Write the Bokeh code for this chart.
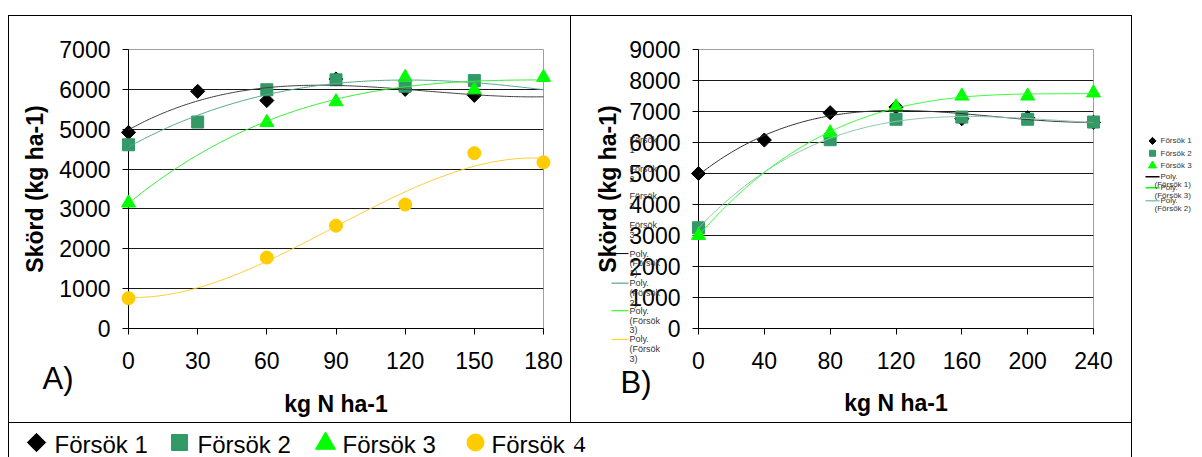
import numpy as np
from bokeh.plotting import figure
from bokeh.models import Range1d, FixedTicker, Spacer
from bokeh.layouts import row, column
from bokeh.core.properties import value
from bokeh.embed import file_html
from bokeh.resources import INLINE

FONT = "Liberation Sans"

# ---------------- data: panel A ----------------
a_xticks = [0, 30, 60, 90, 120, 150, 180]
a_yticks = [0, 1000, 2000, 3000, 4000, 5000, 6000, 7000]
a_f1_x = [0, 30, 60, 90, 120, 150]
a_f1_y = [4920, 5950, 5720, 6260, 6000, 5850]
a_f2_x = [0, 30, 60, 90, 120, 150]
a_f2_y = [4610, 5180, 5990, 6240, 6080, 6220]
a_f3_x = [0, 60, 90, 120, 150, 180]
a_f3_y = [3150, 5170, 5690, 6300, 5990, 6300]
a_f4_x = [0, 60, 90, 120, 150, 180]
a_f4_y = [760, 1780, 2580, 3110, 4400, 4170]

# ---------------- data: panel B ----------------
b_xticks = [0, 40, 80, 120, 160, 200, 240]
b_yticks = [0, 1000, 2000, 3000, 4000, 5000, 6000, 7000, 8000, 9000]
b_f1_x = [0, 40, 80, 120, 160, 200, 240]
b_f1_y = [5000, 6080, 6960, 7140, 6770, 6800, 6650]
b_f2_x = [0, 80, 120, 160, 200, 240]
b_f2_y = [3250, 6090, 6750, 6820, 6750, 6660]
b_f3_x = [0, 80, 120, 160, 200, 240]
b_f3_y = [3000, 6310, 7150, 7500, 7500, 7600]

series_names = ["Försök 1", "Försök 2", "Försök 3", "Försök 4"]
x_title = "kg N ha-1"
y_title = "Skörd (kg ha-1)"

C1, C2, C3, C4 = "#000000", "#339966", "#00FF00", "#FFCC00"


def trend(xs, ys, xmax, order=3):
    coef = np.polyfit(xs, ys, order)
    xx = np.linspace(0, xmax, 181)
    return xx, np.polyval(coef, xx)


def vline(h):
    return Spacer(width=1, height=h, margin=0, styles={"background-color": "#000000"})


def hline(w):
    return Spacer(width=w, height=1, margin=0, styles={"background-color": "#000000"})


def blank(w, h):
    return Spacer(width=w, height=h, margin=0)


def chart(W, H, fl, ft, fw, fh, xmax, ymax, xticks, yticks, y_std, x_std):
    p = figure(width=W, height=H, x_range=Range1d(0, xmax), y_range=Range1d(0, ymax),
               output_backend="svg", toolbar_location=None, tools="",
               min_border_left=fl, min_border_right=W - fl - fw,
               min_border_top=ft, min_border_bottom=H - ft - fh,
               background_fill_color="white", border_fill_color="white",
               outline_line_color="#A0A0A0", outline_line_width=1)
    p.extra_x_ranges = {"cx": Range1d(fl, fl + fw)}
    p.extra_y_ranges = {"cy": Range1d(ft + fh, ft)}
    p.xaxis.ticker = FixedTicker(ticks=xticks)
    p.yaxis.ticker = FixedTicker(ticks=yticks)
    p.ygrid.ticker = FixedTicker(ticks=yticks)
    p.xgrid.visible = False
    p.ygrid.grid_line_color = "#000000"
    p.ygrid.grid_line_alpha = 0.9
    for ax in (p.xaxis[0], p.yaxis[0]):
        ax.axis_line_color = "black"
        ax.major_tick_line_color = "black"
        ax.major_tick_out = 6
        ax.major_tick_in = 0
        ax.minor_tick_line_color = None
        ax.major_label_text_font = FONT
        ax.major_label_text_font_size = "23px"
        ax.major_label_text_color = "black"
        ax.axis_label_text_font = FONT
        ax.axis_label_text_font_size = "23px"
        ax.axis_label_text_font_style = "bold"
        ax.axis_label_text_color = "black"
    p.xaxis.axis_label = x_title
    p.yaxis.axis_label = y_title
    p.xaxis.major_label_standoff = 17
    p.yaxis.major_label_standoff = 12
    p.xaxis.axis_label_standoff = x_std
    p.yaxis.axis_label_standoff = y_std
    return p


def txt(p, xs, ys, texts, size, color="#000000", font=FONT, rng=True):
    kw = dict(x_range_name="cx", y_range_name="cy") if rng else {}
    p.text(x=xs, y=ys, text=texts, text_font=value(font), text_font_size=size,
           text_color=color, text_baseline="middle", text_align="left", level="overlay", **kw)


# ---------------- panel A ----------------
pa = chart(561, 406, 119, 33, 415, 283, 180, 7000, a_xticks, a_yticks, 8, 19)
pa.scatter(a_f1_x, a_f1_y, marker="square", angle=np.pi / 4, size=10, color=C1, level="overlay")
pa.scatter(a_f2_x, a_f2_y, marker="square", size=12, color=C2, level="overlay")
pa.scatter(a_f3_x, a_f3_y, marker="triangle", size=14, color=C3, level="overlay")
pa.scatter(a_f4_x, a_f4_y, marker="circle", size=13, color=C4, level="overlay")
for xs, ys, col in [(a_f1_x, a_f1_y, "#404040"), (a_f2_x, a_f2_y, "#55A887"),
                    (a_f3_x, a_f3_y, "#33EE33"), (a_f4_x, a_f4_y, "#FFCC33")]:
    tx, ty = trend(xs, ys, 180)
    pa.line(tx, ty, line_color=col, line_width=1, level="overlay")
txt(pa, [33], [367], ["A)"], "31px")

# ---------------- panel B ----------------
pb = chart(560, 406, 127, 29, 395, 283, 240, 9000, b_xticks, b_yticks, 5, 18)
pb.scatter(b_f1_x, b_f1_y, marker="square", angle=np.pi / 4, size=10, color=C1, level="overlay")
pb.scatter(b_f2_x, b_f2_y, marker="square", size=12, color=C2, level="overlay")
pb.scatter(b_f3_x, b_f3_y, marker="triangle", size=14, color=C3, level="overlay")
for xs, ys, col in [(b_f1_x, b_f1_y, "#303030"), (b_f2_x, b_f2_y, "#8CC6AA"),
                    (b_f3_x, b_f3_y, "#33FF33")]:
    tx, ty = trend(xs, ys, 240)
    pb.line(tx, ty, line_color=col, line_width=1, level="overlay")
txt(pb, [49], [367], ["B)"], "31px")

# inner (overlapping) legend of panel B
LG = "#333333"
pb.scatter([49], [120], marker="square", angle=np.pi / 4, size=5, color=C1,
           x_range_name="cx", y_range_name="cy", level="overlay")
pb.scatter([49], [150], marker="square", size=6, color=C2,
           x_range_name="cx", y_range_name="cy", level="overlay")
pb.scatter([49], [179], marker="triangle", size=8, color=C3,
           x_range_name="cx", y_range_name="cy", level="overlay")
pb.scatter([49], [207], marker="circle", size=7, color=C4,
           x_range_name="cx", y_range_name="cy", level="overlay")
txt(pb, [58] * 8, [121, 131, 150, 160, 178, 188, 207, 217],
    ["Försök", "1", "Försök", "2", "Försök", "3", "Försök", "3"], "9px", LG)
for yy, col, lab in [(236, C1, "1)"), (266, C2, "2)"), (294, C3, "3)"), (323, C4, "3)")]:
    pb.line([40, 57], [yy, yy], line_color=col, line_width=1,
            x_range_name="cx", y_range_name="cy", level="overlay")
    txt(pb, [58, 58, 58], [yy, yy + 10, yy + 20], ["Poly.", "(Försök", lab], "9px", LG)

# ---------------- right legend panel ----------------
pr = figure(width=70, height=406, x_range=Range1d(0, 70), y_range=Range1d(406, 0),
            output_backend="svg", toolbar_location=None, tools="", min_border=0,
            x_axis_type=None, y_axis_type=None, outline_line_color=None,
            background_fill_color="white", border_fill_color="white")
pr.xgrid.visible = False
pr.ygrid.visible = False
RL = "#333333"
pr.scatter([20], [133], marker="square", angle=np.pi / 4, size=5, color=C1)
pr.scatter([20], [151], marker="square", size=6, color=C2)
pr.scatter([20], [169], marker="triangle", size=8, color=C3)
txt(pr, [28, 28, 28], [133, 151, 169], series_names[:3], "8px", RL, rng=False)
for yy, col, lab in [(185, "#000000", "(Försök 1)"), (201, "#00FF00", "(Försök 3)"),
                     (220, "#8CC6AA", "(Försök 2)")]:
    pr.line([13, 27], [yy, yy], line_color=col, line_width=1.5)
    txt(pr, [28, 22], [yy, yy + 11], ["Poly.", lab], "8px", RL, rng=False)

# ---------------- bottom legend ----------------
pl = figure(width=1122, height=34, x_range=Range1d(0, 1122), y_range=Range1d(34, 0),
            output_backend="svg", toolbar_location=None, tools="", min_border=0,
            x_axis_type=None, y_axis_type=None, outline_line_color=None,
            background_fill_color="white", border_fill_color="white")
pl.xgrid.visible = False
pl.ygrid.visible = False
pl.scatter([27], [19], marker="square", angle=np.pi / 4, size=13, color=C1)
pl.scatter([170], [19], marker="square", size=16, color=C2)
pl.scatter([316], [20], marker="triangle", size=20, color=C3)
pl.scatter([466], [19], marker="circle", size=17, color=C4)
txt(pl, [45, 188, 333], [21, 21, 21], series_names[:3], "24px", rng=False)
txt(pl, [482], [21], ["Försök"], "24px", rng=False)
txt(pl, [564], [21], ["4"], "24px", font="Liberation Serif", rng=False)

layout = column(
    blank(1202, 15),
    row(blank(8, 1), hline(1124), blank(70, 1), spacing=0),
    row(blank(8, 406), vline(406), pa, vline(406), pb, vline(406), pr, spacing=0),
    row(blank(8, 1), hline(1124), blank(70, 1), spacing=0),
    row(blank(8, 34), vline(34), pl, vline(34), blank(70, 34), spacing=0),
    spacing=0,
)

open("out.html", "w").write(file_html(layout, INLINE))
